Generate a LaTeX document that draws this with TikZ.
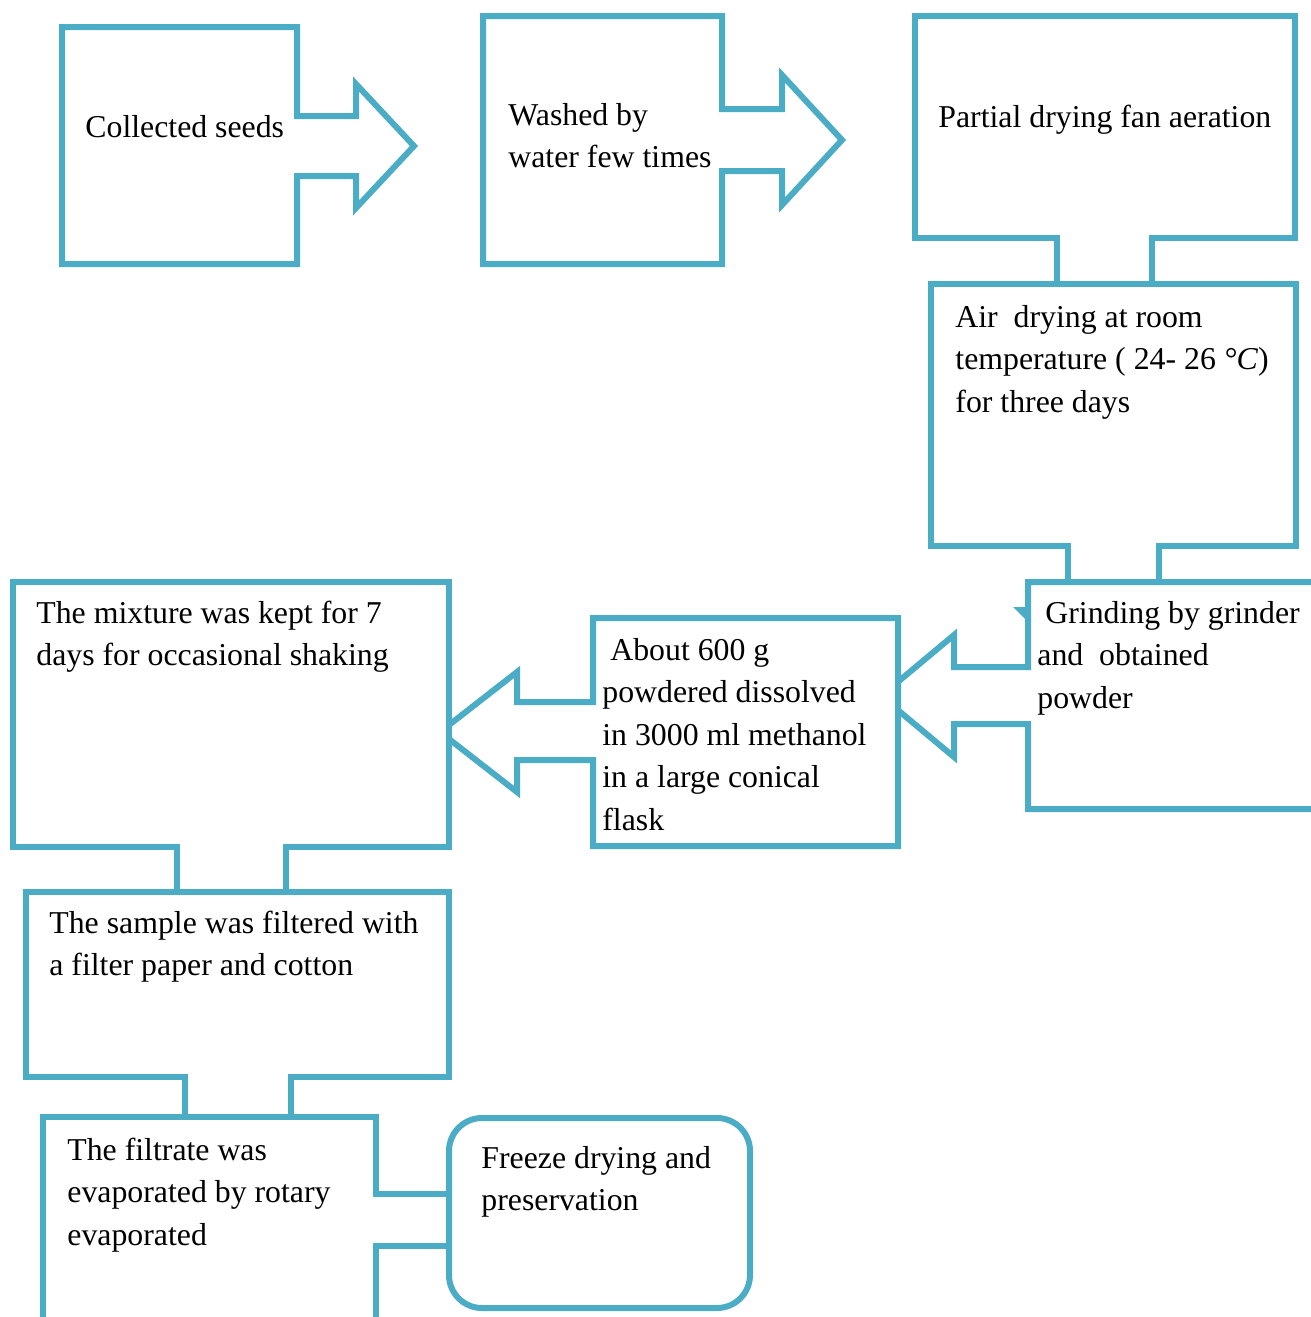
\documentclass[tikz,border=0pt]{standalone}
\usepackage{fontspec}
\setmainfont{Liberation Serif}
\definecolor{flow}{HTML}{4BACC6}
\begin{document}
\begin{tikzpicture}[x=0.5pt,y=-0.5pt,
  shapeline/.style={draw=flow, line width=3pt, fill=white, line join=miter},
  openline/.style={draw=flow, line width=3pt, line join=miter},
  lbl/.style={anchor=north west, inner sep=0pt, align=left, text=black,
    font=\fontsize{15.9}{21.25}\selectfont}]
\useasboundingbox (0,0) rectangle (1311,1317);
\begin{scope}
\clip (0,0) rectangle (1311,1317);
% box 1
\path[shapeline] (62,27) -- (297,27) -- (297,116) -- (356,116) -- (356,84) -- (414,146)
  -- (356,208) -- (356,176) -- (297,176) -- (297,264) -- (62,264) -- cycle;
% box 2
\path[shapeline] (483,16) -- (722,16) -- (722,109) -- (782,109) -- (782,75) -- (842,140)
  -- (782,205) -- (782,171) -- (722,171) -- (722,264) -- (483,264) -- cycle;
% box 3
\path[shapeline] (1057,284) -- (1057,238) -- (915,238) -- (915,16) -- (1295,16)
  -- (1295,238) -- (1152,238) -- (1152,284);
% box 4
\path[shapeline] (1068,582) -- (1068,546) -- (931,546) -- (931,284) -- (1296,284)
  -- (1296,546) -- (1159,546) -- (1159,582);
% box 5
\path[shapeline] (1330,582) -- (1028,582) -- (1028,667) -- (954,667) -- (954,635)
  -- (881,696) -- (954,757) -- (954,724) -- (1028,724) -- (1028,809) -- (1330,809);
\fill[flow] (1013,607) -- (1028,607) -- (1028,622) -- cycle;
% box 6
\path[shapeline] (593,618) -- (898,618) -- (898,846) -- (593,846) -- (593,760)
  -- (517,760) -- (517,792) -- (440,732) -- (517,672) -- (517,702) -- (593,702) -- cycle;
% box 7
\path[shapeline] (177,892) -- (177,847) -- (13,847) -- (13,582) -- (449,582)
  -- (449,847) -- (286,847) -- (286,892);
% box 8
\path[shapeline] (185,1117) -- (185,1077) -- (26,1077) -- (26,892) -- (449,892)
  -- (449,1077) -- (291,1077) -- (291,1117);
% box 9
\path[openline] (449,1194) -- (376,1194) -- (376,1117) -- (43,1117) -- (43,1330);
\path[openline] (449,1246) -- (376,1246) -- (376,1330);
% box 10
\path[shapeline, rounded corners=16.5pt] (449,1118) rectangle (750,1308);
\end{scope}

\node[lbl] (t1) at (85,107.25) {\strut Collected seeds};
\node[lbl] (t2) at (508,95.25) {\strut Washed by\\water few times};
\node[lbl] (t3) at (938,97.25) {\strut Partial drying fan aeration};
\node[lbl] (t4) at (955,297.25) {\strut Air~ drying at room\\temperature ( 24- 26 \textit{°C})\\for three days};
\node[lbl] (t5) at (1037,593.25) {\strut~Grinding by grinder\\and~ obtained\\powder};
\node[lbl] (t6) at (602,630.25) {\strut~About 600 g\\powdered dissolved\\in 3000 ml methanol\\in a large conical\\flask};
\node[lbl] (t7) at (36,593.25) {\strut The mixture was kept for 7\\days for occasional shaking};
\node[lbl] (t8) at (49,903.25) {\strut The sample was filtered with\\a filter paper and cotton};
\node[lbl] (t9) at (67,1130.25) {\strut The filtrate was\\evaporated by rotary\\evaporated};
\node[lbl] (t10) at (481,1138.25) {\strut Freeze drying and\\preservation};
\end{tikzpicture}
\end{document}
